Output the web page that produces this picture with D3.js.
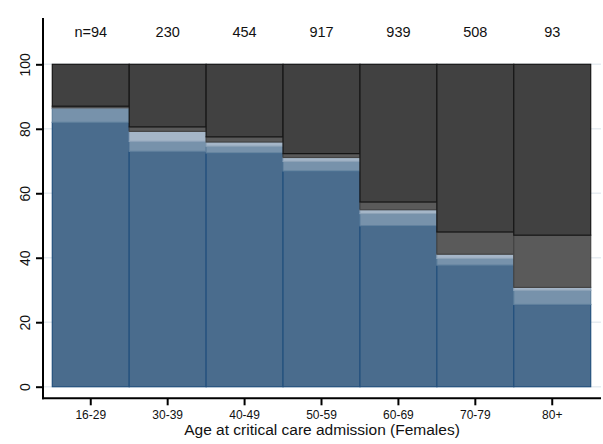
<!DOCTYPE html>
<html>
    <head>
        <meta charset="utf-8"/>
        <title> Critical care admissions, females </title>
        <script src="https://d3js.org/d3.v7.min.js"></script>
        <style>
            body { margin: 0; background: white; }
            text { font-family: "Liberation Sans", Arial, sans-serif; fill: #111; }
        </style>
    </head>

    <body>
        <svg id="chart" width="603" height="444"></svg>

        <script>
            // age groups and number of patients in each
            var ageGroups = ["16-29", "30-39", "40-49", "50-59", "60-69", "70-79", "80+"];
            var nLabels = ["n=94", "230", "454", "917", "939", "508", "93"];

            // percentage in each outcome group, bottom to top
            var level1 = [82.0, 73.0, 72.5, 66.9, 49.9, 37.7, 25.5];
            var level2 = [4.3, 3.1, 2.1, 3.0, 3.8, 2.1, 4.4];
            var level3 = [0.2, 3.1, 1.3, 1.2, 1.2, 1.3, 0.9];
            var level4 = [0.5, 1.4, 1.6, 1.2, 2.4, 6.9, 16.2];
            var level5 = [13.0, 19.4, 22.5, 27.7, 42.7, 52.0, 53.0];

            var yTicks = [0, 20, 40, 60, 80, 100];

            var keys = ["l1", "l2", "l3", "l4", "l5"];
            var fills = {l1: "#4a6c8d", l2: "#7792ab", l3: "#a5b6c8", l4: "#5a5a5a", l5: "#414141"};
            var strokes = {l1: "#23507d", l2: "#5f7f9c", l3: "#8ea3b8", l4: "#444", l5: "#161616"};

            var rows = ageGroups.map(function(g, i) {
                return {group: g, l1: level1[i], l2: level2[i], l3: level3[i], l4: level4[i], l5: level5[i]};
            });

            var svg = d3.select("#chart");

            var x = d3.scaleBand().domain(ageGroups).range([52.3, 590.7]).padding(0);
            var y = d3.scaleLinear().domain([0, 100]).range([386.7, 64.3]);

            // grid lines
            svg.append("g").selectAll("line")
                .data(yTicks)
                .enter().append("line")
                .attr("x1", 43).attr("x2", 601)
                .attr("y1", function(d) { return y(d); })
                .attr("y2", function(d) { return y(d); })
                .attr("stroke", "#e6ecf1")
                .attr("stroke-width", 1.5);

            var stacked = d3.stack().keys(keys)(rows);

            // stacked bars
            svg.append("g").selectAll("g")
                .data(stacked)
                .enter().append("g")
                .attr("fill", function(s) { return fills[s.key]; })
                .attr("stroke", function(s) { return strokes[s.key]; })
                .selectAll("rect")
                .data(function(s) { return s; })
                .enter().append("rect")
                .attr("x", function(d) { return x(d.data.group); })
                .attr("width", x.bandwidth())
                .attr("y", function(d) { return y(d[1]); })
                .attr("height", function(d) { return y(d[0]) - y(d[1]); })
                .attr("stroke-width", 1.2);

            // y axis
            var yAxis = svg.append("g")
                .attr("transform", "translate(43,0)")
                .call(d3.axisLeft(y).tickValues(yTicks).tickSize(7).tickPadding(0));
            yAxis.select(".domain").remove();
            yAxis.selectAll(".tick line").attr("stroke", "#000").attr("stroke-width", 2);
            yAxis.selectAll(".tick text")
                .attr("x", 0).attr("dy", 0)
                .attr("transform", "translate(-13,0) rotate(-90)")
                .attr("text-anchor", "middle")
                .style("font-size", "14px")
                .style("font-family", "Liberation Sans, Arial, sans-serif")
                .attr("fill", "#111");

            svg.append("line")
                .attr("x1", 43).attr("x2", 43)
                .attr("y1", 18).attr("y2", 399.3)
                .attr("stroke", "#000").attr("stroke-width", 2);

            // x axis
            var xAxis = svg.append("g")
                .attr("transform", "translate(0,398.3)")
                .call(d3.axisBottom(x).tickSize(7).tickPadding(5));
            xAxis.select(".domain").remove();
            xAxis.selectAll(".tick line").attr("stroke", "#000").attr("stroke-width", 2);
            xAxis.selectAll(".tick text")
                .style("font-size", "12px")
                .style("font-family", "Liberation Sans, Arial, sans-serif")
                .attr("fill", "#111");

            svg.append("line")
                .attr("x1", 42).attr("x2", 601)
                .attr("y1", 398.3).attr("y2", 398.3)
                .attr("stroke", "#000").attr("stroke-width", 2);

            svg.append("text")
                .attr("x", 322).attr("y", 435)
                .attr("text-anchor", "middle")
                .style("font-size", "15.5px")
                .text("Age at critical care admission (Females)");

            // patient counts above bars
            svg.append("g").selectAll("text")
                .data(nLabels)
                .enter().append("text")
                .attr("x", function(d, i) { return x(ageGroups[i]) + x.bandwidth() / 2; })
                .attr("y", 36.7)
                .attr("text-anchor", "middle")
                .style("font-size", "14.5px")
                .text(function(d) { return d; });
        </script>
    </body>
</html>
